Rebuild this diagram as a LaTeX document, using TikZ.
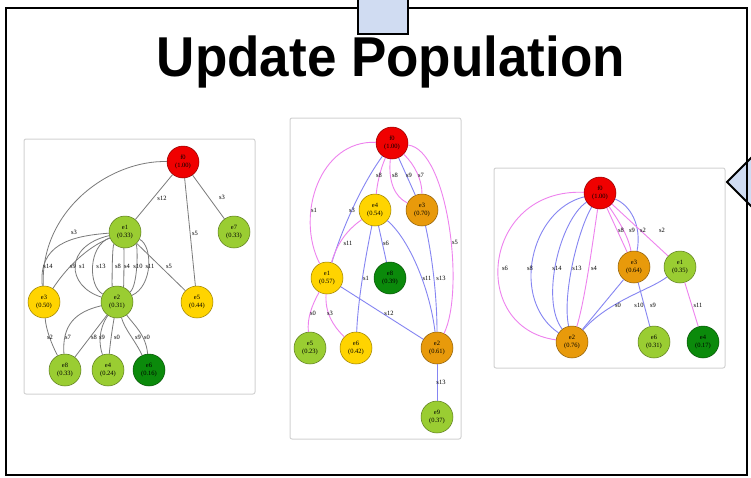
\documentclass[tikz,border=0pt]{standalone}
\usepackage{fontspec}
\setmainfont{Liberation Serif}
\newfontfamily\headfont{Liberation Sans}

\definecolor{nred}{HTML}{F00000}
\definecolor{nyel}{HTML}{FFD400}
\definecolor{nlgr}{HTML}{9ACD32}
\definecolor{ndgr}{HTML}{0B8A0B}
\definecolor{nora}{HTML}{E89A0B}
\definecolor{epink}{HTML}{EE82EE}
\definecolor{eblue}{HTML}{8585F2}
\definecolor{egrey}{HTML}{7A7A7A}
\definecolor{boxblue}{HTML}{D0DCF2}

\tikzset{
  gnode/.style={circle, minimum size=32pt, inner sep=0pt, line width=0.5pt,
    align=center, font=\fontsize{6.5}{8.5}\selectfont},
  nr/.style={gnode, fill=nred, draw=nred!60!black},
  ny/.style={gnode, fill=nyel, draw=nyel!60!black},
  nl/.style={gnode, fill=nlgr, draw=nlgr!60!black},
  nd/.style={gnode, fill=ndgr, draw=ndgr!60!black},
  no/.style={gnode, fill=nora, draw=nora!60!black},
  eg/.style={draw=egrey, line width=0.8pt},
  pk/.style={draw=epink, line width=0.9pt},
  bl/.style={draw=eblue, line width=0.9pt},
  lab/.style={inner sep=0pt, font=\fontsize{6.5}{7}\selectfont},
  panel/.style={draw=gray!35, line width=1pt, rounded corners=2pt, fill=white},
}

\begin{document}
\begin{tikzpicture}[x=1pt, y=-1pt]
\clip (0,0) rectangle (751,477);
\fill[white] (0,0) rectangle (751,477);

% pointer on the right edge
\draw[fill=boxblue, line width=2pt] (727,182) -- (760,149) -- (760,215) -- cycle;
% outer frame
\draw[line width=2pt] (6,8) rectangle (747,475);
% tab on the top edge
\draw[fill=boxblue, line width=2pt] (358,-3) rectangle (408,34);

\node[font=\headfont\bfseries\fontsize{53}{60}\selectfont] (title) at (391,62)
  {\scalebox{1}[1.06]{Update Population}};

% panels
\draw[panel] (24,139) rectangle (255,394);
\draw[panel] (290,118) rectangle (461,439);
\draw[panel] (494,168) rectangle (725,368);

% ---------- first graph ----------
\node[nr] (af0) at (183,162) {f0\\(1.00)};
\node[nl] (ae1) at (125,232) {e1\\(0.33)};
\node[nl] (ae7) at (234,232) {e7\\(0.33)};
\node[ny] (ae3) at (44,302) {e3\\(0.50)};
\node[nl] (ae2) at (117,302) {e2\\(0.31)};
\node[ny] (ae5) at (197,302) {e5\\(0.44)};
\node[nl] (ae8) at (65,370) {e8\\(0.33)};
\node[nl] (ae4) at (108,370) {e4\\(0.24)};
\node[nd] (ae6) at (149,370) {e6\\(0.16)};

\draw[eg] (af0) -- (ae1);
\draw[eg] (af0) -- (ae7);
\draw[eg] (af0) -- (ae5);
\draw[eg] (af0) .. controls (110,160) and (40,210) .. (ae3);
\draw[eg] (ae1) .. controls (70,236) and (38,245) .. (ae3);
\draw[eg] (ae1) .. controls (85,248) and (65,270) .. (ae3);
\draw[eg] (ae1) .. controls (64,246) and (66,286) .. (ae2);
\draw[eg] (ae1) .. controls (88,246) and (88,286) .. (ae2);
\draw[eg] (ae1) .. controls (112,246) and (112,286) .. (ae2);
\draw[eg] (ae1) .. controls (124,246) and (124,286) .. (ae2);
\draw[eg] (ae1) .. controls (138,246) and (138,286) .. (ae2);
\draw[eg] (ae1) .. controls (153,246) and (153,286) .. (ae2);
\draw[eg] (ae1) -- (ae5);
\draw[eg] (ae3) .. controls (46,330) and (52,345) .. (ae8);
\draw[eg] (ae2) .. controls (75,312) and (62,325) .. (ae8);
\draw[eg] (ae2) -- (ae8);
\draw[eg] (ae2) .. controls (98,330) and (99,345) .. (ae4);
\draw[eg] (ae2) .. controls (112,330) and (110,345) .. (ae4);
\draw[eg] (ae2) .. controls (125,330) and (135,340) .. (ae6);
\draw[eg] (ae2) .. controls (134,325) and (146,335) .. (ae6);

\foreach \t/\x/\y [count=\k] in {s12/162/198, s3/222/197, s5/195/233, s3/74/232,
  s14/48/266, s9/73/266, s1/82/266, s13/101/266, s8/118/266, s4/127/266,
  s10/138/266, s11/150/266, s5/169/266, s2/50/337, s7/68/337, s8/94/337,
  s9/102/337, s0/117/337, s9/138/337, s0/147/337}
  \node[lab] (la\k) at (\x,\y) {\t};

% ---------- second graph ----------
\node[nr] (bf0) at (392,143) {f0\\(1.00)};
\node[ny] (be4) at (375,210) {e4\\(0.54)};
\node[no] (be3) at (422,210) {e3\\(0.70)};
\node[ny] (be1) at (327,278) {e1\\(0.57)};
\node[nd] (be8) at (390,278) {e8\\(0.39)};
\node[nl] (be5) at (310,348) {e5\\(0.23)};
\node[ny] (be6) at (356,348) {e6\\(0.42)};
\node[no] (be2) at (437,348) {e2\\(0.61)};
\node[nl] (be9) at (437,417) {e9\\(0.37)};

\draw[pk] (bf0) .. controls (320,140) and (295,215) .. (be1);
\draw[bl] (bf0) .. controls (365,180) and (345,220) .. (be1);
\draw[pk] (bf0) .. controls (380,170) and (377,185) .. (be4);
\draw[pk] (bf0) .. controls (388,182) and (395,197) .. (be3);
\draw[bl] (bf0) -- (be3);
\draw[pk] (bf0) .. controls (415,165) and (422,180) .. (be3);
\draw[pk] (bf0) .. controls (448,150) and (465,290) .. (be2);
\draw[pk] (be4) .. controls (350,228) and (338,240) .. (be1);
\draw[bl] (be4) .. controls (365,260) and (358,300) .. (be6);
\draw[bl] (be4) -- (be8);
\draw[bl] (be4) .. controls (410,240) and (430,290) .. (be2);
\draw[bl] (be3) .. controls (433,260) and (437,300) .. (be2);
\draw[bl] (be1) -- (be2);
\draw[pk] (be1) .. controls (312,305) and (307,318) .. (be5);
\draw[pk] (be1) .. controls (325,312) and (332,325) .. (be6);
\draw[bl] (be2) -- (be9);

\foreach \t/\x/\y [count=\k] in {s1/314/210, s3/352/210, s8/379/175, s8/395/175,
  s9/409/175, s7/421/175, s5/455/242, s11/348/243, s6/386/243, s1/366/278,
  s11/427/278, s13/441/278, s12/389/313, s0/313/313, s3/330/313, s13/441/382}
  \node[lab] (lb\k) at (\x,\y) {\t};

% ---------- third graph ----------
\node[nr] (cf0) at (600,193) {f0\\(1.00)};
\node[no] (ce3) at (634,267) {e3\\(0.64)};
\node[nl] (ce1) at (680,267) {e1\\(0.35)};
\node[no] (ce2) at (572,342) {e2\\(0.76)};
\node[nl] (ce6) at (654,342) {e6\\(0.31)};
\node[nd] (ce4) at (703,342) {e4\\(0.17)};

\draw[pk] (cf0) .. controls (482,188) and (468,328) .. (ce2);
\draw[bl] (cf0) .. controls (530,210) and (510,300) .. (ce2);
\draw[bl] (cf0) .. controls (560,220) and (540,300) .. (ce2);
\draw[bl] (cf0) .. controls (578,230) and (562,295) .. (ce2);
\draw[pk] (cf0) .. controls (593,240) and (585,300) .. (ce2);
\draw[pk] (cf0) -- (ce3);
\draw[pk] (cf0) .. controls (618,220) and (628,235) .. (ce3);
\draw[bl] (cf0) .. controls (630,205) and (642,225) .. (ce3);
\draw[pk] (cf0) -- (ce1);
\draw[bl] (ce3) -- (ce2);
\draw[bl] (ce1) .. controls (650,290) and (610,300) .. (ce2);
\draw[bl] (ce3) -- (ce6);
\draw[pk] (ce1) -- (ce4);

\foreach \t/\x/\y [count=\k] in {s6/505/268, s8/530/268, s14/557/268, s13/577/268,
  s4/594/268, s8/621/230, s9/632/230, s2/643/230, s2/662/230, s0/618/305,
  s10/639/305, s9/653/305, s11/698/305}
  \node[lab] (lc\k) at (\x,\y) {\t};
\end{tikzpicture}
\end{document}
